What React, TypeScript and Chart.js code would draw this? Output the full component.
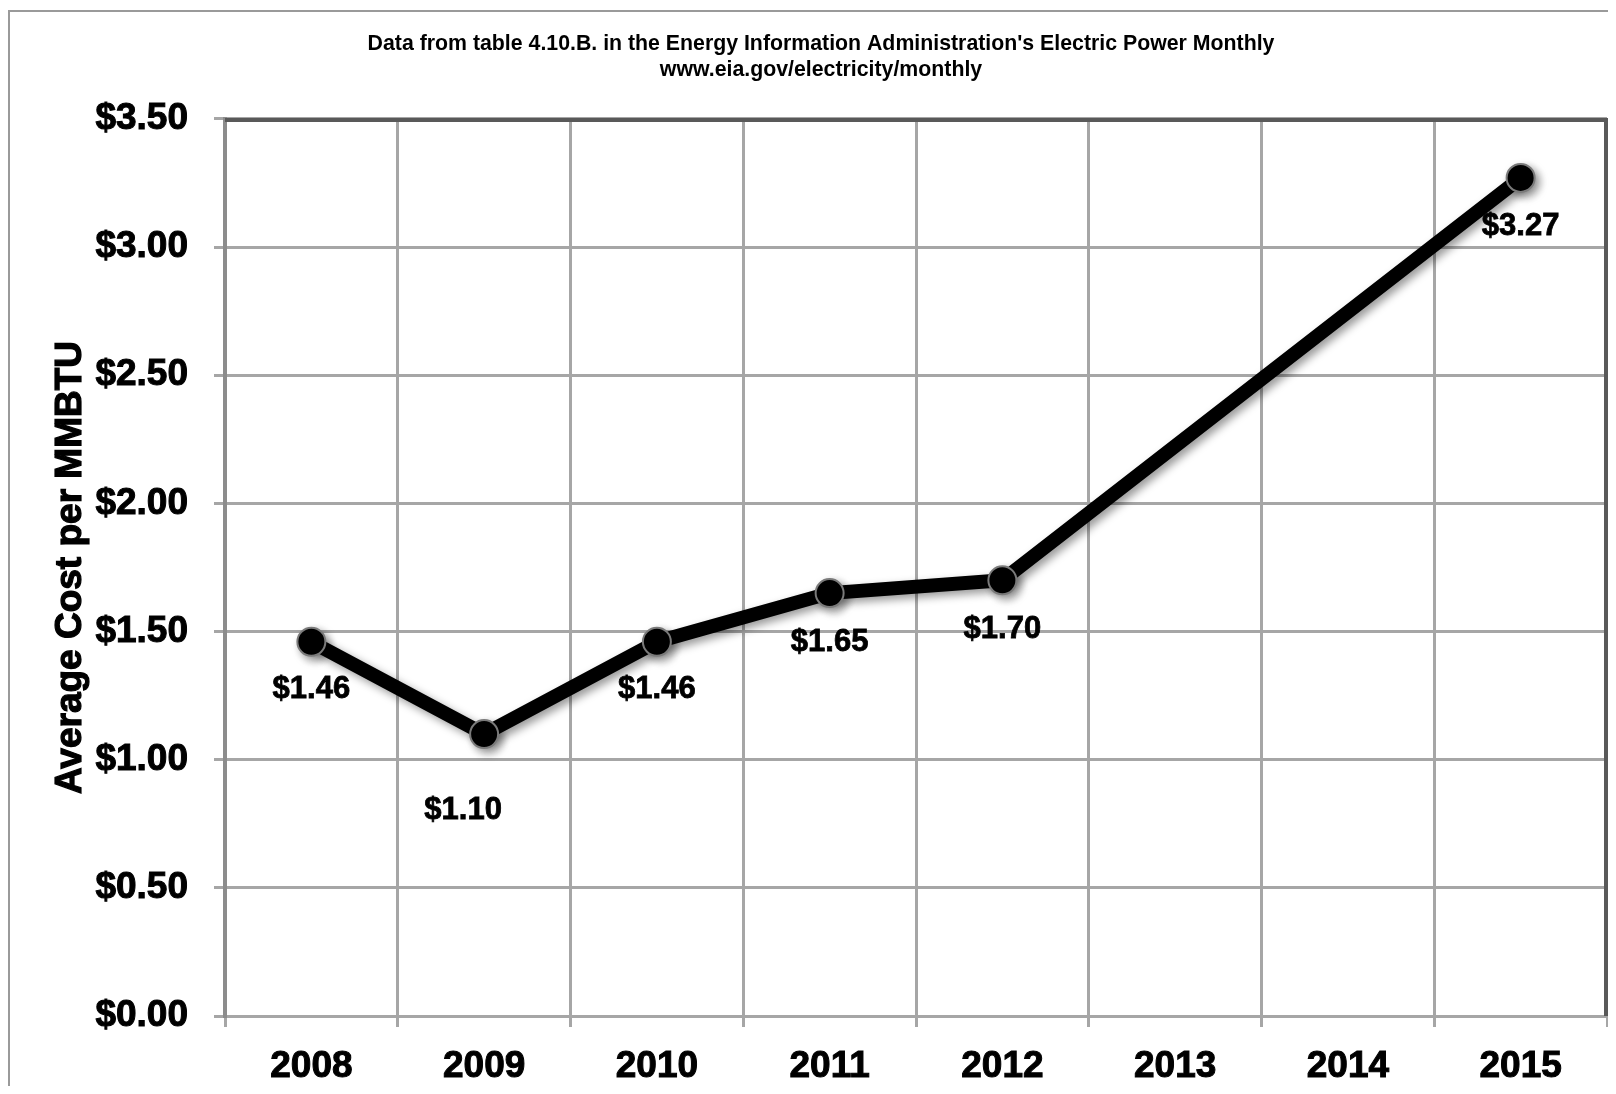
import React, { useEffect, useRef } from "react";
import { Chart, registerables } from "chart.js";

Chart.register(...registerables);

const years = ["2008", "2009", "2010", "2011", "2012", "2013", "2014", "2015"];
const avgCost: (number | null)[] = [1.46, 1.1, 1.46, 1.65, 1.7, null, null, 3.27];
const yTickMin = 0;
const yTickMax = 3.5;
const yTickStep = 0.5;
const titleLines = [
  "Data from table 4.10.B. in the Energy Information Administration's Electric Power Monthly",
  "www.eia.gov/electricity/monthly",
];
const yAxisTitle = "Average Cost per MMBTU";

// label placement (style only)
const LABEL_DX = [0, -21, 0, 0, 0, 0, 0, 0];
const LABEL_DY = [48, 76, 48, 49, 49, 0, 0, 49];

const FONT = "'Liberation Sans', Arial, sans-serif";
const GRID = "#a6a6a6";
const Y_TITLE_SIZE = 37;
const Y_TITLE_PAD = 25;

const decorPlugin = {
  id: "decor",
  beforeDatasetsDraw(chart: any) {
    const { ctx, chartArea: a } = chart;
    ctx.save();
    ctx.lineCap = "butt";
    ctx.strokeStyle = "#8c8c8c";
    ctx.lineWidth = 4;
    ctx.beginPath();
    ctx.moveTo(a.left, a.top);
    ctx.lineTo(a.left, a.bottom);
    ctx.stroke();
    ctx.strokeStyle = "#595959";
    ctx.lineWidth = 4;
    ctx.beginPath();
    ctx.moveTo(a.left, a.top + 1);
    ctx.lineTo(a.right - 1, a.top + 1);
    ctx.lineTo(a.right - 1, a.bottom);
    ctx.stroke();
    ctx.restore();
    ctx.save();
    ctx.shadowColor = "rgba(0,0,0,0.4)";
    ctx.shadowBlur = 9;
    ctx.shadowOffsetX = 4;
    ctx.shadowOffsetY = 4;
  },
  afterDatasetsDraw(chart: any) {
    const { ctx } = chart;
    ctx.restore();
    const meta = chart.getDatasetMeta(0);
    ctx.save();
    ctx.fillStyle = "#000";
    ctx.strokeStyle = "#000";
    ctx.lineWidth = 0.8;
    ctx.font = `bold 31px ${FONT}`;
    ctx.textAlign = "center";
    ctx.textBaseline = "middle";
    meta.data.forEach((pt: any, i: number) => {
      const v = avgCost[i];
      if (v === null || v === undefined) return;
      const t = "$" + v.toFixed(2);
      ctx.fillText(t, pt.x + LABEL_DX[i], pt.y + LABEL_DY[i]);
      ctx.strokeText(t, pt.x + LABEL_DX[i], pt.y + LABEL_DY[i]);
    });
    ctx.restore();
  },
  afterDraw(chart: any) {
    // thicken the y-axis title strokes to match the heavy bold of the original
    const { ctx, chartArea: a } = chart;
    const s = chart.scales.y;
    const lh = Y_TITLE_SIZE * 1.2;
    ctx.save();
    ctx.translate(s.left + Y_TITLE_PAD + lh / 2, (a.top + a.bottom) / 2);
    ctx.rotate(-Math.PI / 2);
    ctx.font = `bold ${Y_TITLE_SIZE}px ${FONT}`;
    ctx.textAlign = "center";
    ctx.textBaseline = "middle";
    ctx.strokeStyle = "#000";
    ctx.lineWidth = 1.2;
    ctx.strokeText(yAxisTitle, 0, 0);
    ctx.restore();
  },
};

export default function App() {
  const ref = useRef<HTMLCanvasElement | null>(null);
  useEffect(() => {
    if (!ref.current) return;
    const chart = new Chart(ref.current, {
      type: "line",
      data: {
        labels: years,
        datasets: [
          {
            data: avgCost,
            borderColor: "#000",
            borderWidth: 14,
            pointRadius: 14,
            pointBorderWidth: 2,
            pointBorderColor: "#7a7a7a",
            pointBackgroundColor: "#000",
            spanGaps: true,
            tension: 0,
            borderJoinStyle: "round",
            borderCapStyle: "round",
          } as any,
        ],
      },
      options: {
        responsive: false,
        animation: false,
        layout: { padding: { left: 14, right: 5, top: 0, bottom: 8 } },
        plugins: {
          legend: { display: false },
          tooltip: { enabled: false },
          title: {
            display: true,
            text: titleLines,
            color: "#000",
            font: { family: FONT, weight: "bold", size: 21.3, lineHeight: 1.22 },
            padding: { top: 19, bottom: 36 },
          },
        },
        scales: {
          x: {
            type: "category",
            offset: true,
            grid: {
              offset: true,
              color: GRID,
              lineWidth: 3,
              tickLength: 11,
              drawTicks: true,
            },
            border: { display: true, color: GRID, width: 3 },
            ticks: {
              color: "#000",
              padding: 18,
              maxRotation: 0,
              textStrokeColor: "#000",
              textStrokeWidth: 1,
              font: { family: FONT, weight: "bold", size: 37 },
            },
            afterFit: (s: any) => {
              s.height = 70;
              s.paddingLeft = 0;
              s.paddingRight = 0;
            },
          },
          y: {
            min: yTickMin,
            max: yTickMax,
            grid: { color: GRID, lineWidth: 3, tickLength: 11, drawTicks: true },
            border: { display: true, color: "#8c8c8c", width: 4 },
            ticks: {
              stepSize: yTickStep,
              color: "#000",
              padding: 26,
              textStrokeColor: "#000",
              textStrokeWidth: 1,
              font: { family: FONT, weight: "bold", size: 37 },
              callback: (v: any) => "$" + Number(v).toFixed(2),
            },
            title: {
              display: true,
              text: yAxisTitle,
              color: "#000",
              font: { family: FONT, weight: "bold", size: Y_TITLE_SIZE, lineHeight: 1.2 },
              padding: { top: Y_TITLE_PAD, bottom: 0 },
            },
            afterFit: (s: any) => {
              s.width = 201;
              s.paddingTop = 0;
              s.paddingBottom = 0;
            },
          },
        },
      },
      plugins: [decorPlugin],
    } as any);
    return () => chart.destroy();
  }, []);

  return (
    <div style={{ width: 1608, height: 1078, overflow: "hidden", paddingTop: 2, boxSizing: "border-box" }}>
      <div
        style={{
          width: 1700,
          height: 1200,
          borderTop: "2px solid #9a9a9a",
          borderLeft: "2px solid #9a9a9a",
          background: "#fff",
        }}
      >
        <canvas ref={ref} width={1613} height={1082} style={{ display: "block" }} />
      </div>
    </div>
  );
}
